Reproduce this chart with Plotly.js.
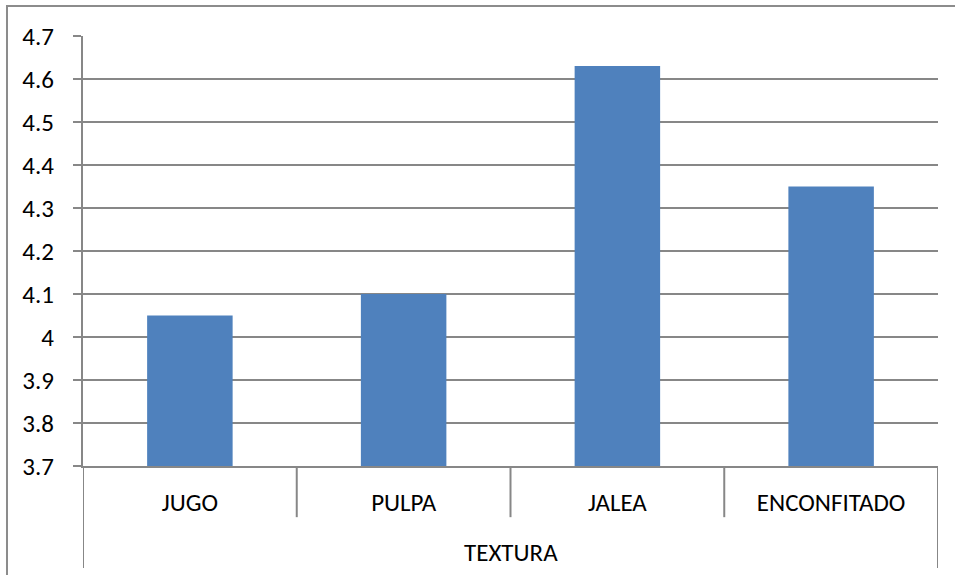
<!DOCTYPE html>
<html>
<head>
<meta charset="utf-8">
<script src="https://cdn.plot.ly/plotly-3.0.1.min.js"></script>
<style>html,body{margin:0;padding:0;background:#fff;}#chart{width:955px;height:575px;}</style>
</head>
<body>
<div id="chart"></div>
<script>
const categories = ["JUGO", "PULPA", "JALEA", "ENCONFITADO"];
const values = [4.05, 4.10, 4.63, 4.35];
const groupLabel = "TEXTURA";
const yTickVals = [3.7, 3.8, 3.9, 4.0, 4.1, 4.2, 4.3, 4.4, 4.5, 4.6, 4.7];
const yTickText = ["3.7", "3.8", "3.9", "4", "4.1", "4.2", "4.3", "4.4", "4.5", "4.6", "4.7"];

const FONT = "Carlito, Calibri, Lato, 'Open Sans', sans-serif";
const FS = 25;
const GRAY = "#878787";

// divider lines between categories (in category coordinates)
const shapes = [];
for (let i = 0; i <= categories.length; i++) {
  const edge = (i === 0 || i === categories.length);
  shapes.push({
    type: "line", xref: "x", yref: "paper",
    x0: i - 0.5, x1: i - 0.5, y0: 0, y1: edge ? -0.237 : -0.119,
    line: {color: GRAY, width: 2}
  });
}
// outer chart border
shapes.push({
  type: "rect", xref: "paper", yref: "paper",
  x0: -0.0889, x1: 1.2, y0: -0.5, y1: 1.0698,
  line: {color: "#8c8c8c", width: 2}, layer: "below"
});

const trace = {
  type: "bar",
  x: categories,
  y: values,
  marker: {color: "#4F81BD"},
  width: 0.4,
  hoverinfo: "x+y"
};

const layout = {
  width: 955, height: 575,
  margin: {l: 83, r: 17, t: 36, b: 109},
  paper_bgcolor: "#ffffff", plot_bgcolor: "#ffffff",
  showlegend: false,
  font: {family: FONT, size: FS, color: "#000000"},
  xaxis: {
    type: "category",
    range: [-0.5, 3.5],
    showgrid: false, zeroline: false,
    showline: true, linecolor: GRAY, linewidth: 2,
    ticks: "", ticklabelstandoff: 13,
    tickfont: {family: FONT, size: FS, color: "#000"}
  },
  yaxis: {
    range: [3.7, 4.7],
    tickvals: yTickVals, ticktext: yTickText,
    showgrid: true, gridcolor: GRAY, gridwidth: 2,
    zeroline: false,
    showline: true, linecolor: GRAY, linewidth: 2,
    ticks: "outside", ticklen: 8, tickcolor: GRAY, tickwidth: 2,
    ticklabelstandoff: 14,
    tickfont: {family: FONT, size: FS, color: "#000"}
  },
  shapes: shapes,
  annotations: [{
    text: groupLabel, xref: "paper", yref: "paper",
    x: 0.5, y: -0.202, xanchor: "center", yanchor: "middle",
    showarrow: false, font: {family: FONT, size: FS, color: "#000"}
  }]
};

Plotly.newPlot("chart", [trace], layout, {displayModeBar: false, staticPlot: true});
</script>
</body>
</html>
